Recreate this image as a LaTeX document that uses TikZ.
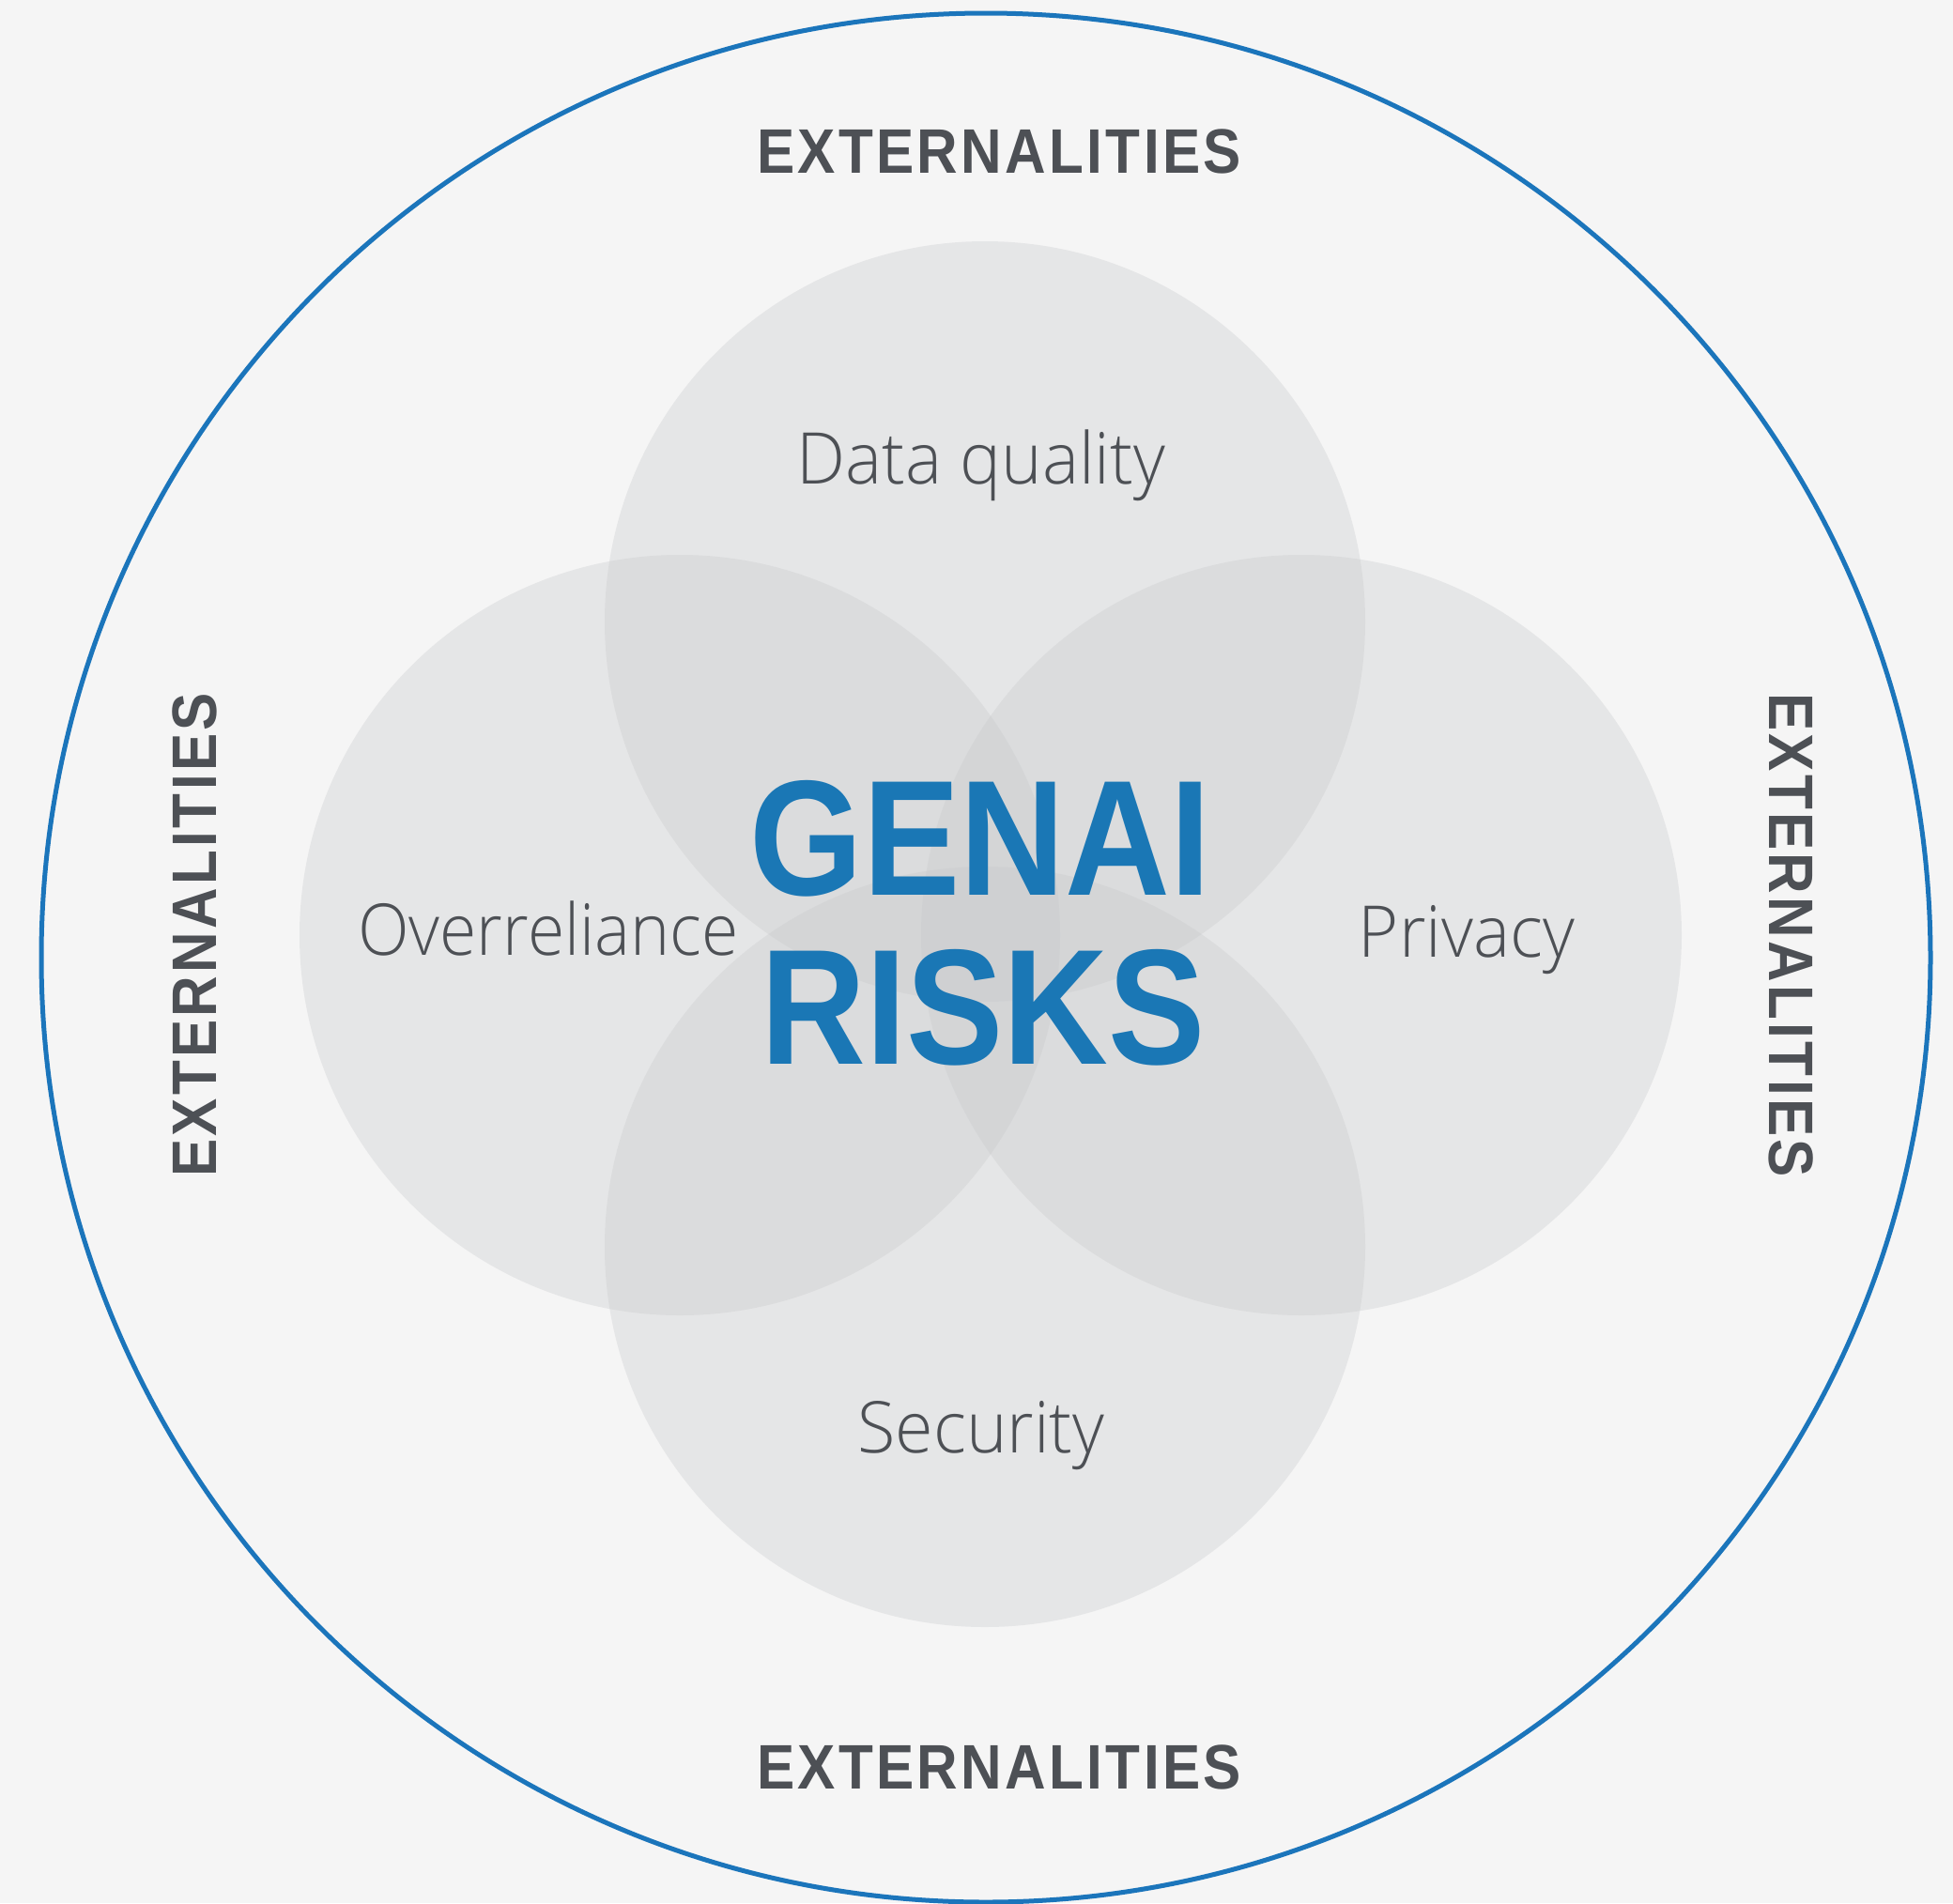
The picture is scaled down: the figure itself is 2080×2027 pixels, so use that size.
\documentclass[tikz,border=0pt]{standalone}
\usepackage{fontspec}
\setmainfont{Liberation Sans}
\newfontfamily\lightfont{Open Sans Light}[FakeStretch=0.97]
\newfontfamily\titlefont{Liberation Sans Bold}[FakeStretch=0.885]
\newfontfamily\extfont{Liberation Sans Bold}[FakeStretch=0.9, LetterSpace=5]
\definecolor{bgcol}{HTML}{F5F5F5}
\definecolor{ringblue}{HTML}{1B75BB}
\definecolor{titleblue}{HTML}{1A77B5}
\definecolor{inkgray}{HTML}{4D5055}
\definecolor{petal}{HTML}{C6C8CA}
\tikzset{
  petalcircle/.style={fill=petal, fill opacity=0.32},
  riskname/.style={anchor=base, text=inkgray, inner sep=0pt,
    font=\lightfont\fontsize{76}{80}\selectfont},
  extlabel/.style={anchor=base, text=inkgray, inner sep=0pt,
    font=\extfont\fontsize{67}{70}\selectfont},
  bigtitle/.style={anchor=base, text=titleblue, inner sep=0pt,
    font=\titlefont\fontsize{175}{180}\selectfont},
}
\begin{document}
\begin{tikzpicture}[x=1pt,y=-1pt]
\useasboundingbox (0,0) rectangle (2080,2027);
% paper background
\fill[bgcol] (0,0) rectangle (2080,2027);

% outer ring
\draw[ringblue, line width=5pt] (1050,1020) circle[radius=1006];

% four overlapping risk areas
\fill[petalcircle] (1049,662) circle[radius=405];
\fill[petalcircle] (724,996) circle[radius=405];
\fill[petalcircle] (1386,996) circle[radius=405];
\fill[petalcircle] (1049,1328) circle[radius=405];

% risk names
\node[riskname] (dq) at (1045,515) {Data quality};
\node[riskname, font=\lightfont\addfontfeatures{FakeStretch=0.94}\fontsize{76}{80}\selectfont] (ov) at (584,1017) {Overreliance};
\node[riskname] (pr) at (1562,1019) {Privacy};
\node[riskname] (se) at (1045,1547) {Security};

% central title
\node[bigtitle] (genai) at (1044,953) {GENAI};
\node[bigtitle] (risks) at (1047,1133) {RISKS};

% externalities around the ring
\node[extlabel] (extn) at (1064,184) {EXTERNALITIES};
\node[extlabel] (exts) at (1064,1905) {EXTERNALITIES};
\node[extlabel, rotate=90] (extw) at (230,996) {EXTERNALITIES};
\node[extlabel, rotate=-90] (exte) at (1884,996) {EXTERNALITIES};
\end{tikzpicture}
\end{document}
